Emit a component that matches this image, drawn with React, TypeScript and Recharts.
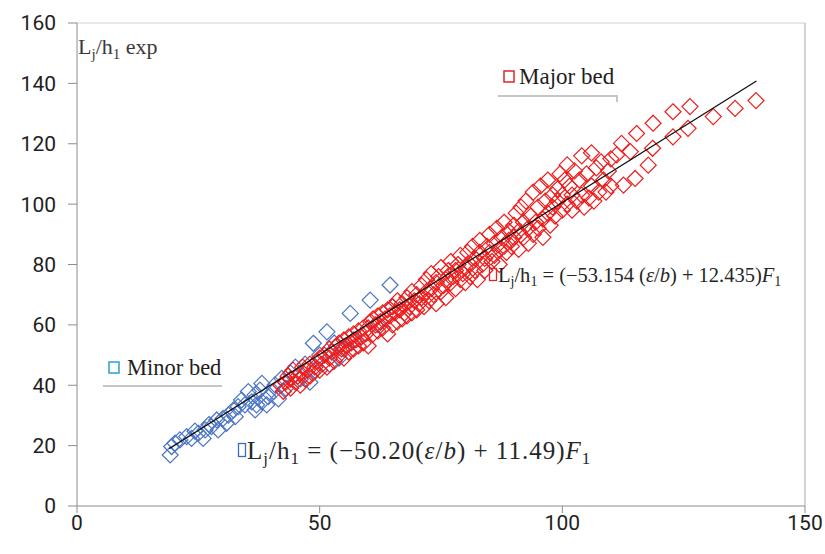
import React from "react";
import { ScatterChart, Scatter, XAxis, YAxis, ReferenceLine } from "recharts";

// Minor bed (blue) and major bed (red) measurements: [F1-based prediction, Lj/h1 exp]
const minorBed: [number, number][] = [
  [19.2, 16.9], [19.5, 19.7], [20.2, 20.8], [21.2, 21.9], [22.6, 23.0], [23.6, 22.4],
  [24.3, 24.8], [25.0, 24.1], [26.0, 22.4], [26.4, 25.2], [27.2, 27.0], [27.7, 26.3],
  [28.8, 28.5], [29.1, 25.2], [30.1, 29.0], [30.8, 27.4], [31.2, 30.1], [32.2, 31.8],
  [32.6, 29.6], [33.2, 32.9], [33.9, 35.1], [34.6, 33.5], [35.3, 37.9], [36.0, 34.5],
  [36.7, 31.8], [36.7, 36.8], [37.0, 33.5], [37.7, 38.4], [38.1, 34.5], [38.1, 40.6],
  [39.1, 33.5], [39.4, 36.2], [40.5, 37.9], [40.8, 40.1], [41.5, 35.5], [42.2, 42.3],
  [43.0, 39.0], [44.0, 44.0], [45.0, 46.0], [46.0, 42.0], [47.0, 47.0], [48.0, 41.0],
  [48.7, 53.9], [49.0, 45.0], [50.0, 50.0], [51.5, 57.7], [52.0, 47.0], [53.0, 54.0],
  [54.0, 49.0], [55.0, 52.0], [56.3, 63.8], [57.0, 55.0], [60.4, 68.2], [62.0, 60.0],
  [64.5, 73.2], [65.0, 66.0],
];

const majorBed: [number, number][] = [
  [42, 40], [42.5, 38], [43, 41], [43.5, 43], [44, 39], [44, 42], [44.5, 45], [45, 41],
  [45.5, 43], [46, 40], [46, 44], [46.5, 46], [47, 42], [47.5, 45], [48, 43], [48, 47],
  [48.5, 44], [49, 46], [49.5, 48], [50, 45], [50, 49],
  [50.5, 47], [51, 50], [51.5, 46], [52, 49], [52, 52], [52.5, 51], [53, 48], [53.5, 53],
  [54, 50], [54, 54], [54.5, 52], [55, 49], [55, 55], [55.5, 53], [56, 51], [56, 56],
  [56.5, 54], [57, 52], [57, 57], [57.5, 55], [58, 53], [58, 58], [58.5, 56], [59, 54],
  [59, 59], [59.5, 57], [60, 53], [60, 59],
  [60.5, 61], [61, 57], [61, 62], [61.5, 60], [62, 58], [62, 63], [62.5, 61], [63, 59],
  [63, 64], [63.5, 62], [64, 57], [64, 65], [64.5, 63], [65, 60], [65, 66], [65.5, 64],
  [66, 61], [66, 68], [66.5, 65], [67, 62], [67, 67], [67.5, 64], [68, 63], [68, 69],
  [68.5, 66], [69, 64], [69, 71], [69.5, 68], [70, 65], [70, 70],
  [70.5, 67], [71, 73], [71, 69], [71.5, 66], [72, 71], [72, 75], [72.5, 68], [73, 72],
  [73, 77], [73.5, 70], [74, 74], [74, 67], [74.5, 76], [75, 71], [75, 79], [75.5, 73],
  [76, 75], [76, 69], [76.5, 78], [77, 74], [77, 81], [77.5, 76], [78, 72], [78, 78],
  [78.5, 80], [79, 75], [79, 83], [79.5, 77], [80, 79], [80, 74],
  [80.5, 84], [81, 76], [81, 80], [81.5, 86], [82, 78], [82, 82], [82.5, 75], [83, 84],
  [83, 88], [83.5, 80], [84, 82], [84, 78], [84.5, 86], [85, 84], [85, 90], [85.5, 81],
  [86, 87], [86, 83], [86.5, 92], [87, 85], [87, 80], [87.5, 89], [88, 86], [88, 94],
  [88.5, 84], [89, 88], [89, 91], [89.5, 86], [90, 93], [90, 89],
  [90.5, 97], [91, 85], [91, 91], [91.5, 99], [92, 89], [92, 94], [92.5, 101], [93, 87],
  [93, 92], [93.5, 96], [94, 90], [94, 104], [94.5, 94], [95, 92], [95, 99], [95.5, 106],
  [96, 95], [96, 89], [96.5, 101], [97, 97], [97, 108], [97.5, 93], [98, 103], [98, 99],
  [98.5, 96], [99, 105], [99, 101], [99.5, 110], [100, 98], [100, 103],
  [100.5, 108], [101, 100], [101, 113], [101.5, 106], [102, 98], [102, 103], [102.5, 111],
  [103, 101], [103.5, 108], [104, 103], [104, 116], [104.5, 99], [105, 110], [105.5, 102],
  [106, 117], [106, 106], [106.5, 101], [107, 112], [107.5, 104], [108, 114], [108.5, 108],
  [109, 104], [109.5, 111], [110, 115], [110, 106],
  [111.2, 116.3], [112.2, 120.1], [112.6, 106.3], [114.0, 117.4], [115.0, 108.5],
  [115.3, 123.4], [117.7, 112.9], [118.6, 118.5], [118.7, 126.8], [122.8, 130.6],
  [122.8, 122.3], [125.9, 125.1], [126.3, 132.3], [131.1, 129.0], [135.6, 131.7],
  [139.9, 134.3],
];

// 1:1 reference line
const trendLine: [number, number][] = [
  [19, 19],
  [140, 140.8],
];

const xTicks = [0, 50, 100, 150];
const yTicks = [0, 20, 40, 60, 80, 100, 120, 140, 160];

const toPoints = (rows: [number, number][]) => rows.map(([x, y]) => ({ x, y }));

const diamond = (color: string) => (props: any) => {
  const { cx, cy } = props;
  const r = 8;
  return (
    <polygon
      points={`${cx},${cy - r} ${cx + r},${cy} ${cx},${cy + r} ${cx - r},${cy}`}
      fill="none"
      stroke={color}
      strokeWidth={1.2}
    />
  );
};

const tickFont = {
  fill: "#1e1e1e",
  fontSize: 21,
  fontFamily: "Roboto, 'Open Sans', sans-serif",
};

const serif = "'Liberation Serif', 'DejaVu Serif', serif";

export default function App() {
  return (
    <div style={{ position: "absolute", left: 0, top: 0, width: 825, height: 554, background: "#fff" }}>
      <ScatterChart width={825} height={554} margin={{ top: 23, right: 20, bottom: 0, left: 0 }}>
        <XAxis
          type="number"
          dataKey="x"
          domain={[0, 150]}
          ticks={xTicks}
          height={48}
          tick={tickFont}
          tickSize={7}
          tickLine={{ stroke: "#8c8c8c" }}
          axisLine={{ stroke: "#8c8c8c" }}
        />
        <YAxis
          type="number"
          dataKey="y"
          domain={[0, 160]}
          ticks={yTicks}
          width={77}
          tick={tickFont}
          tickSize={9}
          tickMargin={12}
          tickLine={{ stroke: "#8c8c8c" }}
          axisLine={{ stroke: "#8c8c8c" }}
        />
        <ReferenceLine y={160} stroke="#d0d0d0" />
        <ReferenceLine x={150} stroke="#a6a6a6" />
        <Scatter data={toPoints(minorBed)} shape={diamond("#4a74c4")} isAnimationActive={false} />
        <Scatter data={toPoints(majorBed)} shape={diamond("#ee1c1c")} isAnimationActive={false} />
        <Scatter
          data={toPoints(trendLine)}
          line={{ stroke: "#111", strokeWidth: 1.3 }}
          shape={() => <g />}
          isAnimationActive={false}
        />
      </ScatterChart>
      <svg
        width={825}
        height={554}
        style={{ position: "absolute", left: 0, top: 0, pointerEvents: "none" }}
      >
        <text x={78} y={54} fontFamily={serif} fontSize={22} fill="#3a3a3a">
          L<tspan fontSize={15} dy={5}>j</tspan>
          <tspan dy={-5}>/h</tspan>
          <tspan fontSize={15} dy={5}>1</tspan>
          <tspan dy={-5}> exp</tspan>
        </text>

        <rect x={504} y={71} width={10} height={11} fill="none" stroke="#e0262a" strokeWidth={1.5} />
        <text x={519} y={84} fontFamily={serif} fontSize={23} fill="#1e1e1e">Major bed</text>
        <path d="M498 96 H617 V102" fill="none" stroke="#c6c6c6" strokeWidth={2} />

        <rect x={109} y={362} width={10} height={11} fill="none" stroke="#2a9fd8" strokeWidth={1.5} />
        <text x={127} y={375} fontFamily={serif} fontSize={22.5} fill="#1e1e1e">Minor bed</text>
        <line x1={103} x2={222} y1={386} y2={386} stroke="#c6c6c6" strokeWidth={2} />

        <rect x={489.5} y={268.5} width={7} height={12} fill="none" stroke="#e0262a" strokeWidth={1.3} />
        <text x={498} y={282} fontFamily={serif} fontSize={20.5} fill="#262626">
          L<tspan fontSize={14} dy={4}>j</tspan>
          <tspan dy={-4}>/h</tspan>
          <tspan fontSize={14} dy={4}>1</tspan>
          <tspan dy={-4}> = (−53.154 (</tspan>
          <tspan fontStyle="italic">ε</tspan>
          <tspan>/</tspan>
          <tspan fontStyle="italic">b</tspan>
          <tspan>) + 12.435)</tspan>
          <tspan fontStyle="italic">F</tspan>
          <tspan fontSize={14} dy={4}>1</tspan>
        </text>

        <rect x={238.5} y={443.5} width={7} height={13} fill="none" stroke="#3a6cc4" strokeWidth={1.3} />
        <text x={247} y={459} fontFamily={serif} fontSize={25} letterSpacing={1} fill="#262626">
          L<tspan fontSize={17} dy={5}>j</tspan>
          <tspan dy={-5}>/h</tspan>
          <tspan fontSize={17} dy={5}>1</tspan>
          <tspan dy={-5}> = (−50.20(</tspan>
          <tspan fontStyle="italic">ε</tspan>
          <tspan>/</tspan>
          <tspan fontStyle="italic">b</tspan>
          <tspan>) + 11.49)</tspan>
          <tspan fontStyle="italic">F</tspan>
          <tspan fontSize={17} dy={5}>1</tspan>
        </text>
      </svg>
    </div>
  );
}
